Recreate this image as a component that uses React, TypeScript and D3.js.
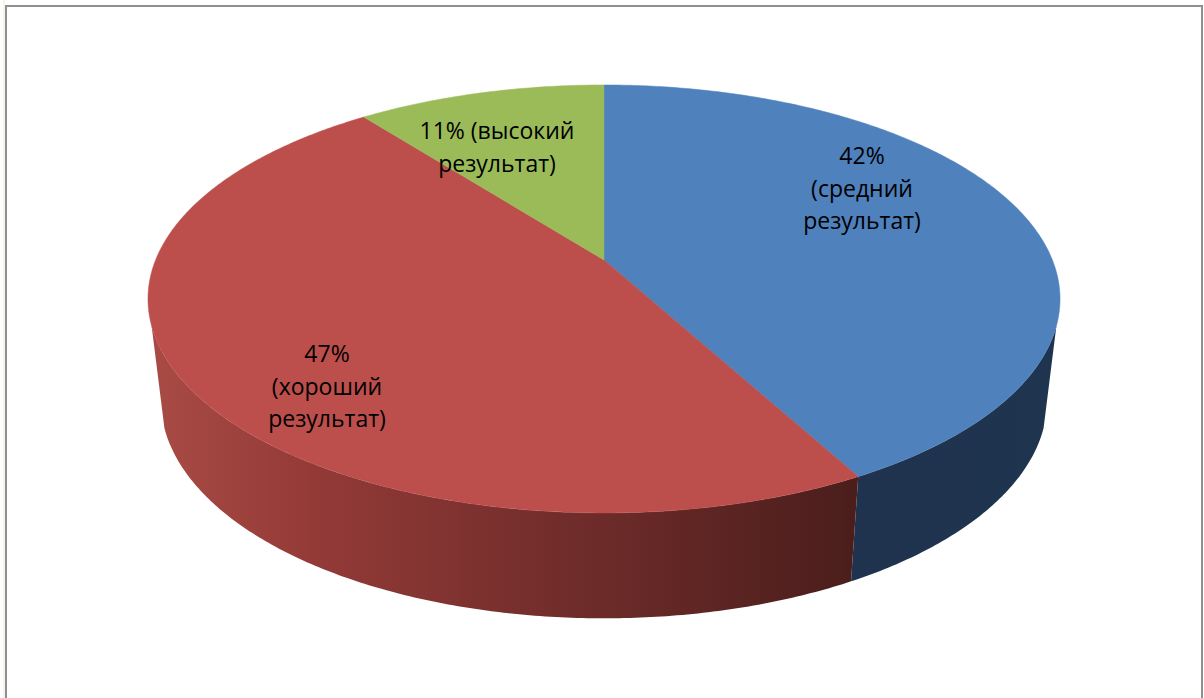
import React from "react";
import * as d3 from "d3";

const categories = ["средний результат", "хороший результат", "высокий результат"];
const values = [42.1, 47.4, 10.5];
const topColors = ["#4f81bd", "#bc4f4c", "#9bbb59"];
const labelLines = [
  ["42%", "(средний", "результат)"],
  ["47%", "(хороший", "результат)"],
  ["11% (высокий", "результат)"],
];
const labelAnchors: [number, number][] = [
  [862, 158],
  [327, 356],
  [497, 133],
];

const W = 1204;
const H = 698;
const K = 0.182;
const CX = 604;
const TOP = { a: 448.4, b: 206.9, y0: 260 };
const BOTTOM = { a: 435.7, b: 210.5, y0: 361 };
const SILHOUETTE = (107.5 * Math.PI) / 180;

type Plane = { a: number; b: number; y0: number };

function project(theta: number, p: Plane): [number, number] {
  const u = Math.sin(theta);
  const v = -Math.cos(theta);
  const w = 1 - K * v;
  const sx = d3.scaleLinear().domain([0, 1]).range([CX, CX + p.a]);
  const sy = d3.scaleLinear().domain([0, 1]).range([p.y0, p.y0 + p.b]);
  return [sx(u / w), sy(v / w)];
}

function arcPoints(a0: number, a1: number, p: Plane): [number, number][] {
  const n = Math.max(2, Math.ceil(Math.abs(a1 - a0) / 0.01));
  return d3.range(n + 1).map((i) => project(a0 + ((a1 - a0) * i) / n, p));
}

const pieGen = d3.pie<number>().sort(null).startAngle(0).endAngle(2 * Math.PI);
const lineGen = d3.line<[number, number]>();

export default function App() {
  const arcs = pieGen(values);
  const apex: [number, number] = [CX, TOP.y0];
  const lo = SILHOUETTE;
  const hi = 2 * Math.PI - SILHOUETTE;
  const walls = arcs
    .map((d, i) => ({ i, s: Math.max(d.startAngle, lo), e: Math.min(d.endAngle, hi) }))
    .filter((d) => d.e > d.s);
  return (
    <svg
      width={W}
      height={H}
      viewBox={`0 0 ${W} ${H}`}
      style={{ position: "fixed", left: 0, top: 0, background: "#fff" }}
    >
      <defs>
        <linearGradient id="wall0" gradientUnits="userSpaceOnUse" x1={850} x2={1060} y1={0} y2={0}>
          <stop offset="0" stopColor="#1f334f" />
          <stop offset="1" stopColor="#1f344f" />
        </linearGradient>
        <linearGradient id="wall1" gradientUnits="userSpaceOnUse" x1={163} x2={851} y1={0} y2={0}>
          <stop offset="0" stopColor="#a84a44" />
          <stop offset="0.2" stopColor="#953b38" />
          <stop offset="0.55" stopColor="#742e2c" />
          <stop offset="1" stopColor="#4b1e1c" />
        </linearGradient>
      </defs>
      <rect x={3} y={0} width={2} height={H} fill="#f5f5ee" />
      <path d={`M6 ${H}V6H1202V${H}`} fill="none" stroke="#8f8f8f" strokeWidth={2} />
      {walls.map((d) => (
        <path
          key={categories[d.i] + "-wall"}
          d={lineGen([...arcPoints(d.s, d.e, TOP), ...arcPoints(d.e, d.s, BOTTOM)]) + "Z"}
          fill={`url(#wall${d.i})`}
        />
      ))}
      {arcs.map((d, i) => (
        <path
          key={categories[i]}
          d={lineGen([apex, ...arcPoints(d.startAngle, d.endAngle, TOP)]) + "Z"}
          fill={topColors[i]}
          stroke={topColors[i]}
          strokeWidth={0.5}
        />
      ))}
      {labelLines.map((lines, i) => (
        <text
          key={categories[i] + "-label"}
          textAnchor="middle"
          fontFamily="'Open Sans', 'Noto Sans', sans-serif"
          fontSize={23}
          fill="#000"
        >
          {lines.map((t, j) => (
            <tspan key={j} x={labelAnchors[i][0]} y={labelAnchors[i][1] + j * 32.5} dominantBaseline="middle">
              {t}
            </tspan>
          ))}
        </text>
      ))}
    </svg>
  );
}
